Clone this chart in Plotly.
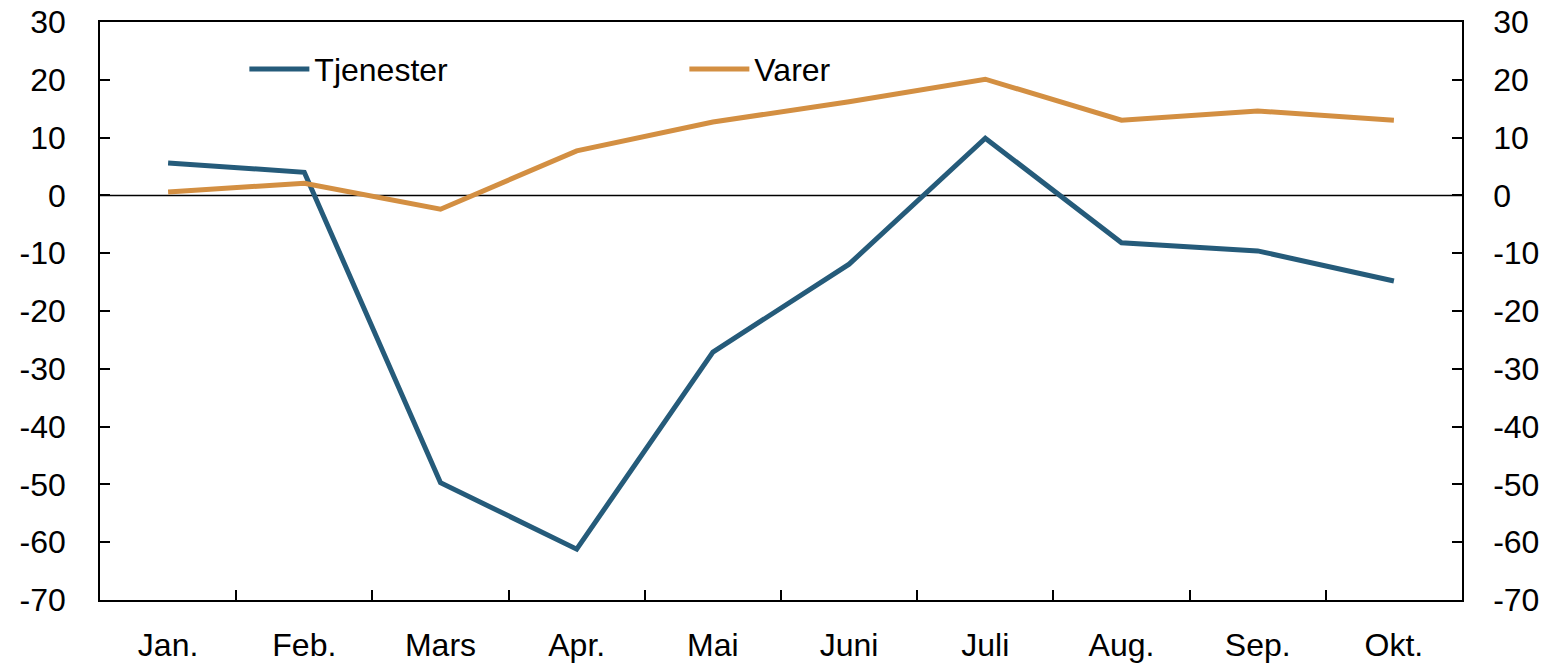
import plotly.graph_objects as go

months = ["Jan.", "Feb.", "Mars", "Apr.", "Mai", "Juni", "Juli", "Aug.", "Sep.", "Okt."]
tjenester = [5.6, 4.0, -49.7, -61.2, -27.1, -11.9, 9.9, -8.2, -9.6, -14.8]
varer = [0.6, 2.1, -2.4, 7.7, 12.7, 16.2, 20.1, 13.0, 14.6, 13.0]
y_ticks = [30, 20, 10, 0, -10, -20, -30, -40, -50, -60, -70]
y_ticktext = [str(v) for v in y_ticks]

FONT = "Liberation Sans, Arial, sans-serif"
FS = 32

fig = go.Figure()
fig.add_trace(go.Scatter(x=months, y=tjenester, mode="lines", name="Tjenester",
                         line=dict(color="#255B7A", width=5)))
fig.add_trace(go.Scatter(x=months, y=varer, mode="lines", name="Varer",
                         line=dict(color="#D38F42", width=5)))

axis_common = dict(range=[-70, 30], tickvals=y_ticks, ticktext=y_ticktext,
                   ticks="inside", ticklen=10,
                   tickwidth=1.5, tickcolor="black", showgrid=False, zeroline=False,
                   showline=True, linecolor="black", linewidth=1.5,
                   tickfont=dict(family=FONT, size=FS, color="black"),
                   ticklabeloverflow="allow", automargin=False)

fig.update_layout(
    width=1557, height=664,
    margin=dict(l=100, r=95, t=22, b=64),
    plot_bgcolor="white", paper_bgcolor="white",
    font=dict(family=FONT, size=FS, color="black"),
    xaxis=dict(type="category", range=[-0.5, 9.5], tickson="boundaries",
               ticks="inside", ticklen=10,
               tickwidth=1.5, tickcolor="black", showgrid=False, showline=True,
               linecolor="black", linewidth=1.5, mirror=True,
               tickfont=dict(family=FONT, size=FS, color="black"),
               ticklabelstandoff=16, ticklabeloverflow="allow", automargin=False),
    yaxis=dict(**axis_common, side="left", ticklabelstandoff=26),
    yaxis2=dict(**axis_common, side="right", overlaying="y", matches="y",
                ticklabelstandoff=23),
    legend=dict(orientation="h", x=0.106, y=0.966, xanchor="left", yanchor="top",
                bgcolor="rgba(0,0,0,0)", entrywidth=365, entrywidthmode="pixels",
                itemwidth=60,
                font=dict(family=FONT, size=FS, color="black")),
    showlegend=True,
)
fig.add_shape(type="line", xref="paper", yref="y", x0=0, x1=1, y0=0, y1=0,
              line=dict(color="black", width=1.5), layer="below")
fig.add_trace(go.Scatter(x=months, y=varer, yaxis="y2", mode="lines",
                         line=dict(width=0), opacity=0, showlegend=False,
                         hoverinfo="skip"))

fig.write_html("out.html", config={"displayModeBar": False},
               post_script="document.body.style.margin='0';document.body.style.padding='0';")
